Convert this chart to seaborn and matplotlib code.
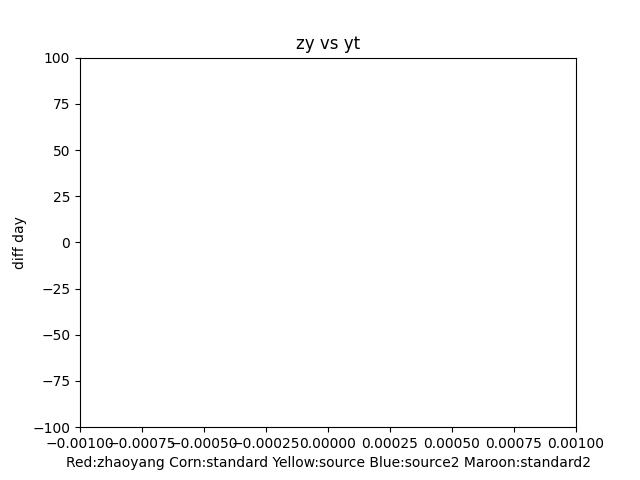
import matplotlib
matplotlib.use('Agg')
import matplotlib.pyplot as plt
import seaborn as sns
import pandas as pd

# series (nothing falls inside the visible window in the original)
days_x = [0.0]
zhaoyang = [float('nan')]
standard = [float('nan')]
source = [float('nan')]
source2 = [float('nan')]
standard2 = [float('nan')]

series = [('zhaoyang', zhaoyang, 'red'), ('standard', standard, 'cornflowerblue'),
          ('source', source, 'yellow'), ('source2', source2, 'blue'),
          ('standard2', standard2, 'maroon')]

fig, ax = plt.subplots(figsize=(6.4, 4.8), dpi=100)
for name, vals, col in series:
    df = pd.DataFrame({'x': days_x, 'y': vals})
    sns.lineplot(data=df, x='x', y='y', color=col, ax=ax)

ax.set_xlim(-0.001, 0.001)
ax.set_ylim(-100, 100)
ax.set_title('zy vs yt')
ax.set_ylabel('diff day')
ax.set_xlabel('Red:zhaoyang Corn:standard Yellow:source Blue:source2 Maroon:standard2')

plt.savefig('out.png')
plt.close()
